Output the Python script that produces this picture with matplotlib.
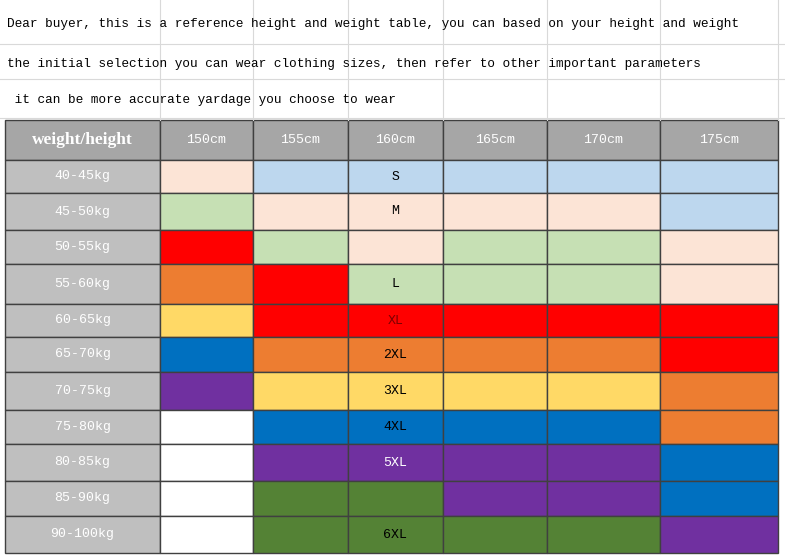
import matplotlib
matplotlib.use("Agg")
import matplotlib.pyplot as plt
from matplotlib.patches import Rectangle

intro = ["Dear buyer, this is a reference height and weight table, you can based on your height and weight",
         "the initial selection you can wear clothing sizes, then refer to other important parameters",
         " it can be more accurate yardage you choose to wear"]
heights = ["150cm", "155cm", "160cm", "165cm", "170cm", "175cm"]
weights = ["40-45kg", "45-50kg", "50-55kg", "55-60kg", "60-65kg", "65-70kg",
           "70-75kg", "75-80kg", "80-85kg", "85-90kg", "90-100kg"]
sizes = ["S", "M", "", "L", "XL", "2XL", "3XL", "4XL", "5XL", "", "6XL"]
size_colors = ["black", "black", "black", "black", "#7F0000", "black", "black", "black", "white", "black", "black"]
grid = [
    ["pe", "lb", "lb", "lb", "lb", "lb"],
    ["lg", "pe", "pe", "pe", "pe", "lb"],
    ["rd", "lg", "pe", "lg", "lg", "pe"],
    ["or", "rd", "lg", "lg", "lg", "pe"],
    ["ye", "rd", "rd", "rd", "rd", "rd"],
    ["bl", "or", "or", "or", "or", "rd"],
    ["pu", "ye", "ye", "ye", "ye", "or"],
    ["wh", "bl", "bl", "bl", "bl", "or"],
    ["wh", "pu", "pu", "pu", "pu", "bl"],
    ["wh", "gr", "gr", "pu", "pu", "bl"],
    ["wh", "gr", "gr", "gr", "gr", "pu"],
]
palette = {"pe": "#FCE4D6", "lb": "#BDD7EE", "lg": "#C6E0B4", "rd": "#FF0000",
           "or": "#ED7D31", "ye": "#FFD966", "bl": "#0070C0", "pu": "#7030A0",
           "gr": "#548235", "wh": "#FFFFFF"}

xb = [5, 160, 253, 348, 443, 547, 660, 778]
yb = [120, 160, 193, 230, 264, 304, 337, 372, 410, 444, 481, 516, 553]
top_y = [0, 44, 79, 118]

fig = plt.figure(figsize=(7.85, 5.58), dpi=100)
ax = fig.add_axes([0, 0, 1, 1])
ax.set_xlim(0, 785); ax.set_ylim(558, 0); ax.axis("off")
font = "Liberation Mono"

for y in top_y[1:]:
    ax.plot([0, 785], [y, y], color="#D9D9D9", lw=0.8)
for x in xb[1:]:
    ax.plot([x, x], [0, 120], color="#D9D9D9", lw=0.8)
for i, t in enumerate(intro):
    ax.text(7, (top_y[i] + top_y[i + 1]) / 2 + 2, t, fontsize=9.2, family=font, va="center")

ax.add_patch(Rectangle((xb[0], yb[0]), xb[1] - xb[0], yb[1] - yb[0], fc="#A6A6A6", ec="#404040", lw=1))
ax.text((xb[0] + xb[1]) / 2, (yb[0] + yb[1]) / 2, "weight/height", color="white", fontsize=12.5,
        fontweight="bold", family="Liberation Serif", ha="center", va="center")
for j, h in enumerate(heights):
    ax.add_patch(Rectangle((xb[j + 1], yb[0]), xb[j + 2] - xb[j + 1], yb[1] - yb[0], fc="#A6A6A6", ec="#404040", lw=1))
    ax.text((xb[j + 1] + xb[j + 2]) / 2, (yb[0] + yb[1]) / 2, h, color="white", fontsize=9.5,
            family=font, ha="center", va="center")

for i, w in enumerate(weights):
    y0, y1 = yb[i + 1], yb[i + 2]
    ax.add_patch(Rectangle((xb[0], y0), xb[1] - xb[0], y1 - y0, fc="#BFBFBF", ec="#404040", lw=1))
    ax.text((xb[0] + xb[1]) / 2, (y0 + y1) / 2, w, color="white", fontsize=9.5, family=font,
            ha="center", va="center")
    for j in range(6):
        ax.add_patch(Rectangle((xb[j + 1], y0), xb[j + 2] - xb[j + 1], y1 - y0,
                               fc=palette[grid[i][j]], ec="#404040", lw=1))
    if sizes[i]:
        ax.text((xb[3] + xb[4]) / 2, (y0 + y1) / 2, sizes[i], color=size_colors[i], fontsize=9.5,
                family=font, ha="center", va="center")

fig.savefig("out.png", dpi=100)
